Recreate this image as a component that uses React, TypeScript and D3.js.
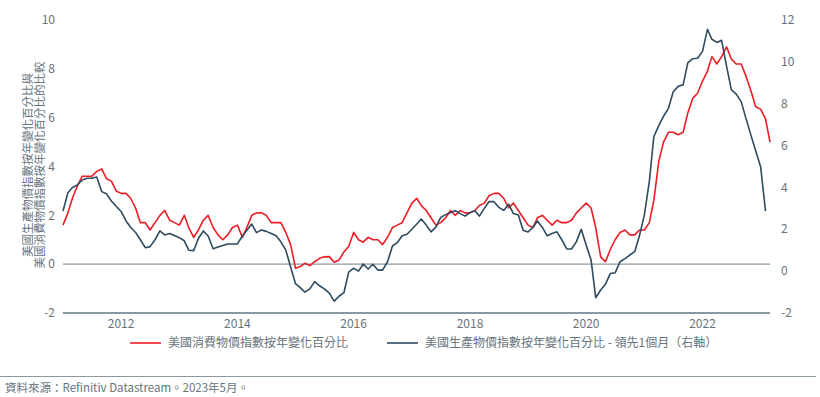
import React, { useEffect, useRef } from "react";
import * as d3 from "d3";

// monthly, Jan 2011 - Mar 2023
const cpiStart = "2011-01";
const cpiValues = [
  1.6, 2.1, 2.7, 3.2, 3.6, 3.6, 3.6, 3.8, 3.9, 3.5, 3.4, 3.0,
  2.9, 2.9, 2.7, 2.3, 1.7, 1.7, 1.4, 1.7, 2.0, 2.2, 1.8, 1.7,
  1.6, 2.0, 1.5, 1.1, 1.4, 1.8, 2.0, 1.5, 1.2, 1.0, 1.2, 1.5,
  1.6, 1.1, 1.5, 2.0, 2.1, 2.1, 2.0, 1.7, 1.7, 1.7, 1.3, 0.8,
  -0.17, -0.1, 0.04, -0.06, 0.1, 0.24, 0.3, 0.31, 0.08, 0.17, 0.5, 0.72,
  1.3, 1.0, 0.9, 1.1, 1.0, 1.0, 0.8, 1.1, 1.5, 1.6, 1.7, 2.1,
  2.5, 2.7, 2.4, 2.2, 1.9, 1.6, 1.7, 1.9, 2.2, 2.0, 2.2, 2.1,
  2.1, 2.2, 2.4, 2.5, 2.8, 2.9, 2.9, 2.7, 2.3, 2.5, 2.2, 1.9,
  1.6, 1.5, 1.9, 2.0, 1.8, 1.6, 1.8, 1.7, 1.7, 1.8, 2.1, 2.3,
  2.5, 2.3, 1.5, 0.3, 0.1, 0.6, 1.0, 1.3, 1.4, 1.2, 1.2, 1.4,
  1.4, 1.7, 2.6, 4.2, 5.0, 5.4, 5.4, 5.3, 5.4, 6.2, 6.8, 7.0,
  7.5, 7.9, 8.5, 8.2, 8.5, 8.9, 8.4, 8.2, 8.2, 7.7, 7.1, 6.45,
  6.35, 5.95, 5.0,
];

// PPI, led by one month (right axis), Jan 2011 - Feb 2023 positions
const ppiStart = "2011-01";
const ppiValues = [
  2.87, 3.75, 4.0, 4.12, 4.35, 4.44, 4.44, 4.5, 3.8, 3.7, 3.35, 3.1,
  2.85, 2.4, 2.1, 1.85, 1.5, 1.12, 1.17, 1.5, 1.92, 1.73, 1.8, 1.7,
  1.6, 1.45, 1.0, 0.98, 1.57, 1.92, 1.68, 1.07, 1.15, 1.22, 1.3, 1.3,
  1.3, 1.68, 1.95, 2.25, 1.84, 1.97, 1.9, 1.8, 1.69, 1.4, 1.0, 0.2,
  -0.6, -0.8, -1.0, -0.85, -0.5, -0.7, -0.85, -1.05, -1.43, -1.2, -1.03, -0.05,
  0.14, 0.0, 0.34, 0.1, 0.33, 0.05, 0.05, 0.45, 1.2, 1.36, 1.69, 1.76,
  2.0, 2.25, 2.49, 2.2, 1.88, 2.1, 2.57, 2.7, 2.8, 2.89, 2.75, 2.63,
  2.8, 2.89, 2.63, 3.0, 3.33, 3.32, 3.05, 2.9, 3.2, 2.75, 2.68, 1.95,
  1.87, 2.1, 2.4, 2.09, 1.69, 1.8, 1.88, 1.5, 1.06, 1.06, 1.41, 2.0,
  1.25, 0.53, -1.27, -0.9, -0.63, -0.11, -0.08, 0.45, 0.6, 0.77, 0.93, 1.7,
  2.7, 4.3, 6.42, 6.95, 7.4, 7.78, 8.57, 8.83, 8.9, 9.96, 10.15, 10.17,
  10.5, 11.55, 11.08, 10.93, 11.03, 9.8, 8.67, 8.46, 8.1, 7.3, 6.5, 5.75,
  4.99, 2.87,
];

const leftTicks = [-2, 0, 2, 4, 6, 8, 10];
const rightTicks = [-2, 0, 2, 4, 6, 8, 10, 12];
const yearTicks = [2012, 2014, 2016, 2018, 2020, 2022];

const leftTitle = ["美國生產物價指數按年變化百分比與", "美國消費物價指數按年變化百分比的比較"];
const legendLabels = ["美國消費物價指數按年變化百分比", "美國生產物價指數按年變化百分比 - 領先1個月（右軸）"];
const sourceText = "資料來源：Refinitiv Datastream。2023年5月。";

const RED = "#ee1c25";
const SLATE = "#2e4a5e";
const GRID = "#8a98a2";
const TEXT = "#66737c";
const FONT = "'Noto Sans CJK TC', 'Noto Sans', sans-serif";

const ChartCpiPpi = () => {
  const svgRef = useRef<SVGSVGElement>(null);

  useEffect(() => {
    const W = 820;
    const H = 397;
    const svg = d3.select(svgRef.current).attr("width", W).attr("height", H);
    svg.selectAll("*").remove();

    const parse = d3.timeParse("%Y-%m");
    const cpi = cpiValues.map((v, i) => ({ date: d3.timeMonth.offset(parse(cpiStart)!, i), v }));
    const ppi = ppiValues.map((v, i) => ({ date: d3.timeMonth.offset(parse(ppiStart)!, i), v }));

    const x = d3
      .scaleTime()
      .domain([cpi[0].date, cpi[cpi.length - 1].date])
      .range([63, 770]);
    const yL = d3.scaleLinear().domain([-2, 10]).range([313, 20]);
    const yR = d3.scaleLinear().domain([-2, 12]).range([313, 20]);

    const g = svg.append("g").style("font-family", FONT);

    // horizontal lines at 0 and bottom
    g.selectAll("line.h")
      .data([0, -2])
      .enter()
      .append("line")
      .attr("x1", 63)
      .attr("x2", 770)
      .attr("y1", (d) => yL(d))
      .attr("y2", (d) => yL(d))
      .attr("stroke", GRID)
      .attr("stroke-width", (d) => (d === 0 ? 1.3 : 2));

    // left axis labels
    g.selectAll("text.yl")
      .data(leftTicks)
      .enter()
      .append("text")
      .attr("x", 55)
      .attr("y", (d) => yL(d))
      .attr("dy", "0.35em")
      .attr("text-anchor", "end")
      .attr("font-size", 12)
      .attr("fill", TEXT)
      .text((d) => d);

    // right axis labels
    g.selectAll("text.yr")
      .data(rightTicks)
      .enter()
      .append("text")
      .attr("x", 781)
      .attr("y", (d) => yR(d))
      .attr("dy", "0.35em")
      .attr("text-anchor", "start")
      .attr("font-size", 12)
      .attr("fill", TEXT)
      .text((d) => d);

    // x labels
    g.selectAll("text.x")
      .data(yearTicks)
      .enter()
      .append("text")
      .attr("x", (d) => x(new Date(d, 0, 1)))
      .attr("y", 324)
      .attr("dy", "0.35em")
      .attr("text-anchor", "middle")
      .attr("font-size", 12)
      .attr("fill", TEXT)
      .text((d) => d);

    // left title (vertical, two lines)
    leftTitle.forEach((t, i) => {
      g.append("text")
        .attr("transform", `translate(${32 + i * 12},165) rotate(-90)`)
        .attr("text-anchor", "middle")
        .attr("font-size", 11.5)
        .attr("fill", TEXT)
        .text(t);
    });

    const line = (yScale: d3.ScaleLinear<number, number>) =>
      d3
        .line<{ date: Date; v: number }>()
        .x((d) => x(d.date))
        .y((d) => yScale(d.v));

    g.append("path")
      .datum(cpi)
      .attr("d", line(yL))
      .attr("fill", "none")
      .attr("stroke", RED)
      .attr("stroke-width", 1.6)
      .attr("stroke-linejoin", "round");

    g.append("path")
      .datum(ppi)
      .attr("d", line(yR))
      .attr("fill", "none")
      .attr("stroke", SLATE)
      .attr("stroke-width", 1.6)
      .attr("stroke-linejoin", "round");

    // legend
    const legend = [
      { x: 130, color: RED, label: legendLabels[0] },
      { x: 387, color: SLATE, label: legendLabels[1] },
    ];
    legend.forEach((l) => {
      g.append("line")
        .attr("x1", l.x)
        .attr("x2", l.x + 31)
        .attr("y1", 343)
        .attr("y2", 343)
        .attr("stroke", l.color)
        .attr("stroke-width", 1.6);
      g.append("text")
        .attr("x", l.x + 38)
        .attr("y", 343)
        .attr("dy", "0.35em")
        .attr("font-size", 12)
        .attr("fill", TEXT)
        .text(l.label);
    });

    // separator + source
    g.append("line")
      .attr("x1", 0)
      .attr("x2", 816)
      .attr("y1", 376.5)
      .attr("y2", 376.5)
      .attr("stroke", GRID)
      .attr("stroke-width", 1.2);
    g.append("text")
      .attr("x", 5)
      .attr("y", 388)
      .attr("dy", "0.35em")
      .attr("font-size", 11.5)
      .attr("fill", TEXT)
      .text(sourceText);
  }, []);

  return <svg ref={svgRef} style={{ position: "absolute", left: 0, top: 0 }}></svg>;
};

export default function App() {
  return <ChartCpiPpi />;
}
